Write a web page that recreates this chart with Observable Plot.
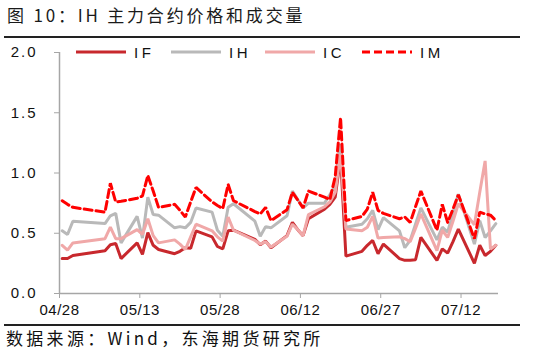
<!DOCTYPE html>
<html><head><meta charset="utf-8">
<script src="https://cdn.jsdelivr.net/npm/d3@7"></script>
<script src="https://cdn.jsdelivr.net/npm/@observablehq/plot@0.6"></script>
<style>
body{margin:0;background:#fff;}
#wrap{position:relative;width:533px;height:357px;overflow:hidden;background:#fff;}
#title{position:absolute;left:7px;top:4px;font-family:"Noto Sans CJK SC",sans-serif;font-size:17px;letter-spacing:2.8px;color:#1a1a1a;line-height:22px;white-space:nowrap;}
.rule{position:absolute;left:4px;width:516px;height:1.5px;background:#222;}
#source{position:absolute;left:6px;top:327px;font-family:"Noto Sans CJK SC",sans-serif;font-size:17px;letter-spacing:3.3px;color:#111;line-height:22px;white-space:nowrap;}
#chart{position:absolute;left:0;top:0;}
#legend{position:absolute;left:0;top:43px;height:18px;width:533px;}
.item{position:absolute;top:0;height:18px;display:flex;align-items:center;}
.item span{font-family:"Liberation Sans",Arial,sans-serif;font-size:15px;letter-spacing:3.5px;color:#111;margin-left:8px;}
g[aria-label="y-axis tick label"] text{font-size:15px;letter-spacing:2px;font-family:"Liberation Sans",Arial,sans-serif;}
g[aria-label="x-axis tick label"] text{font-size:15px;letter-spacing:0.5px;font-family:"Liberation Sans",Arial,sans-serif;}
</style></head><body>
<div id="wrap">
  <div id="title">图 10：IH 主力合约价格和成交量</div>
  <div class="rule" style="top:36px"></div>
  <div id="chart"></div>
  <div id="legend"></div>
  <div class="rule" style="top:324px"></div>
  <div id="source">数据来源：Wind，东海期货研究所</div>
</div>
<script>
const year = 2025;
const dates = [
 "04/28","04/29","04/30",
 "05/06","05/07","05/08","05/09",
 "05/12","05/13","05/14","05/15","05/16",
 "05/19","05/20","05/21","05/22","05/23",
 "05/26","05/27","05/28","05/29","05/30",
 "06/03","06/04","06/05","06/06",
 "06/09","06/10","06/11","06/12","06/13",
 "06/16","06/17","06/18","06/19","06/20",
 "06/23","06/24","06/25","06/26","06/27",
 "06/30","07/01","07/02","07/03","07/04",
 "07/07","07/08","07/09","07/10","07/11",
 "07/14","07/15","07/16","07/17","07/18"
];
const valuesIF = [
 0.29,0.29,0.315,
 0.355,0.405,0.415,0.29,
 0.42,0.325,0.505,0.40,0.365,
 0.33,0.35,0.38,0.375,0.52,
 0.47,0.39,0.37,0.52,0.525,
 0.45,0.405,0.435,0.38,
 0.48,0.59,0.53,0.48,0.62,
 0.70,0.74,0.80,1.13,0.31,
 0.35,0.40,0.44,0.33,0.41,
 0.29,0.275,0.275,0.28,0.465,
 0.275,0.37,0.335,0.43,0.535,
 0.25,0.40,0.315,0.35,0.40
];
const valuesIH = [
 0.52,0.49,0.60,
 0.58,0.645,0.665,0.42,
 0.64,0.46,0.80,0.655,0.65,
 0.545,0.555,0.545,0.59,0.71,
 0.675,0.525,0.475,0.715,0.745,
 0.60,0.475,0.555,0.545,
 0.645,0.85,0.78,0.71,0.75,
 0.75,0.82,0.90,1.24,0.55,
 0.575,0.62,0.69,0.53,0.63,
 0.52,0.38,0.44,0.575,0.71,
 0.445,0.55,0.51,0.67,0.825,
 0.41,0.605,0.465,0.52,0.58
];
const valuesIC = [
 0.40,0.36,0.42,
 0.455,0.55,0.455,0.455,
 0.53,0.49,0.62,0.48,0.42,
 0.445,0.41,0.365,0.47,0.575,
 0.52,0.47,0.435,0.635,0.525,
 0.44,0.41,0.43,0.385,
 0.475,0.575,0.53,0.48,0.655,
 0.72,0.76,0.84,1.16,0.535,
 0.52,0.55,0.64,0.46,0.465,
 0.47,0.455,0.43,0.54,0.66,
 0.355,0.525,0.465,0.60,0.745,
 0.57,0.84,1.10,0.37,0.40
];
const valuesIM = [
 0.77,0.74,0.715,
 0.675,0.915,0.76,0.765,
 0.79,0.81,0.98,0.85,0.715,
 0.74,0.69,0.635,0.76,0.88,
 0.76,0.73,0.705,0.905,0.77,
 0.68,0.66,0.715,0.605,
 0.695,0.84,0.775,0.71,0.85,
 0.80,0.78,0.97,1.46,0.605,
 0.64,0.70,0.84,0.69,0.665,
 0.62,0.635,0.59,0.72,0.85,
 0.525,0.74,0.59,0.70,0.82,
 0.455,0.675,0.66,0.65,0.605
];
const seriesNames = ["IF","IH","IC","IM"];
const seriesColors = ["#c8282d","#b9b9b9","#f0a8a8","#ff0000"];
const yTicks = [0,0.5,1.0,1.5,2.0];
const xTickLabels = ["04/28","05/13","05/28","06/12","06/27","07/12"];
const xStart = "04/28", xEnd = "07/19";

const toDate = (s, h) => new Date(`${year}-${s.replace("/","-")}T${h}:00:00Z`);
const allValues = [valuesIF, valuesIH, valuesIC, valuesIM];
const rows = seriesNames.map((name, k) =>
  dates.map((d, i) => ({series: name, date: toDate(d, "12"), value: allValues[k][i]})));
const xDomain = [toDate(xStart, "00"), toDate(xEnd, "00")];
const xTicks = xTickLabels.map(s => toDate(s, "00"));
const axisGrey = "#a6a6a6";
const imDash = "8,4";

const chart = Plot.plot({
  width: 533, height: 357,
  marginLeft: 59, marginRight: 35, marginTop: 52, marginBottom: 64,
  style: {fontFamily: "Liberation Sans, Arial, sans-serif", fontSize: "15px", background: "transparent", color: "#111"},
  x: {type: "utc", domain: xDomain},
  y: {domain: [0, 2]},
  marks: [
    Plot.ruleX([xDomain[0]], {stroke: axisGrey, strokeWidth: 1.5}),
    Plot.ruleY([0], {stroke: axisGrey, strokeWidth: 1.5}),
    Plot.axisY({ticks: yTicks, tickFormat: d => d.toFixed(1), tickSize: 5, tickPadding: 17, stroke: axisGrey, fill: "#111", label: null}),
    Plot.axisX({ticks: xTicks, tickFormat: (d, i) => xTickLabels[i], tickSize: 5, tickPadding: 6, stroke: axisGrey, fill: "#111", label: null}),
    ...rows.map((data, k) => Plot.lineY(data, {
      x: "date", y: "value",
      stroke: seriesColors[k], strokeWidth: 3,
      strokeDasharray: seriesNames[k] === "IM" ? imDash : null,
      strokeLinejoin: "miter"
    }))
  ]
});
document.getElementById("chart").appendChild(chart);

// legend
const legend = document.getElementById("legend");
const legendLeft = [76, 171, 265, 362];
seriesNames.forEach((name, k) => {
  const item = document.createElement("div");
  item.className = "item";
  item.style.left = legendLeft[k] + "px";
  const dash = name === "IM" ? `stroke-dasharray="${imDash}"` : "";
  item.innerHTML = `<svg width="50" height="6"><line x1="0" y1="3" x2="50" y2="3" stroke="${seriesColors[k]}" stroke-width="3" ${dash}/></svg><span>${name}</span>`;
  legend.appendChild(item);
});
</script>
</body></html>
